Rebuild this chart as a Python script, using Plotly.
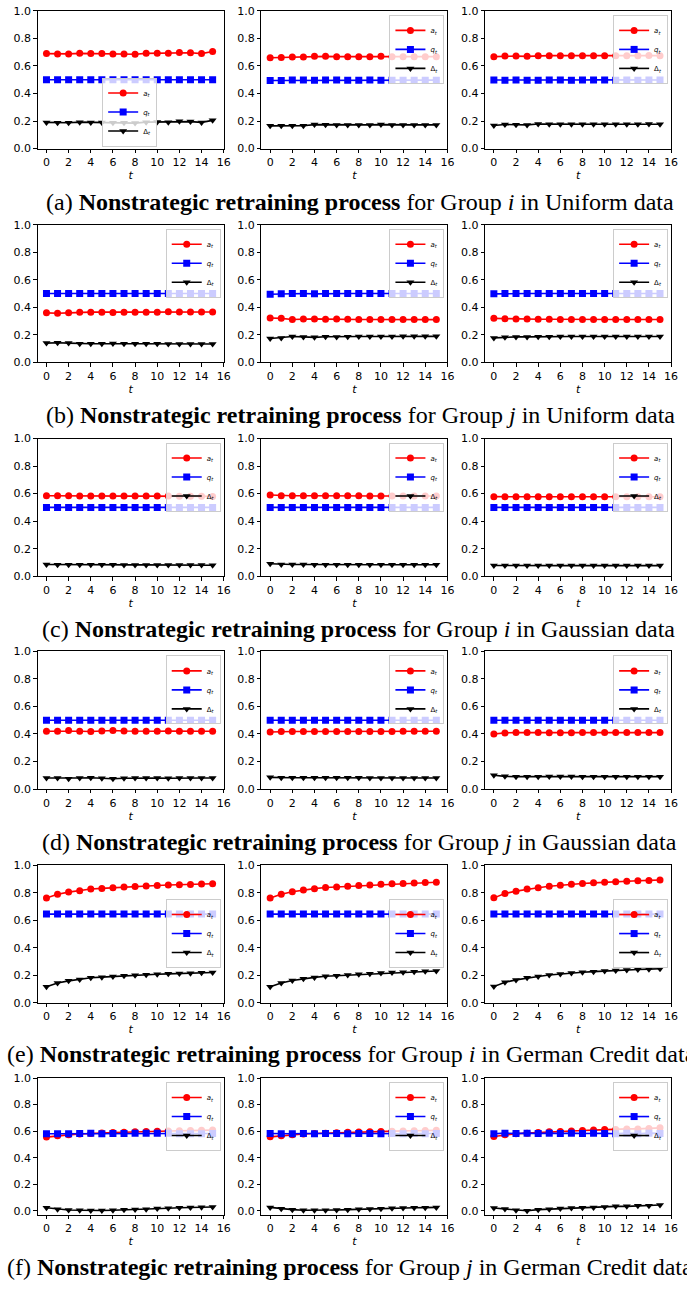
import plotly.graph_objects as go

t = list(range(16))
x_ticks = [0, 2, 4, 6, 8, 10, 12, 14, 16]
y_ticks = [0.0, 0.2, 0.4, 0.6, 0.8, 1.0]

# ---------------- (a) Group i, Uniform ----------------
a_a1 = [0.690,0.688,0.688,0.692,0.690,0.690,0.687,0.687,0.685,0.692,0.693,0.692,0.698,0.696,0.690,0.705]
q_a1 = [0.500,0.500,0.500,0.500,0.500,0.500,0.500,0.500,0.500,0.500,0.500,0.500,0.500,0.500,0.500,0.500]
d_a1 = [0.190,0.188,0.188,0.192,0.190,0.190,0.187,0.187,0.185,0.192,0.193,0.192,0.198,0.196,0.190,0.205]
a_a2 = [0.660,0.662,0.665,0.665,0.670,0.670,0.668,0.668,0.668,0.668,0.670,0.668,0.668,0.668,0.668,0.668]
q_a2 = [0.495,0.495,0.498,0.498,0.496,0.498,0.498,0.497,0.497,0.498,0.497,0.497,0.497,0.497,0.497,0.497]
d_a2 = [0.165,0.165,0.166,0.166,0.174,0.173,0.172,0.172,0.172,0.172,0.174,0.172,0.172,0.172,0.172,0.172]
a_a3 = [0.668,0.672,0.672,0.670,0.675,0.675,0.675,0.674,0.675,0.675,0.675,0.675,0.675,0.675,0.676,0.675]
q_a3 = [0.498,0.497,0.498,0.497,0.497,0.498,0.499,0.497,0.498,0.499,0.498,0.497,0.498,0.497,0.498,0.498]
d_a3 = [0.168,0.175,0.173,0.172,0.178,0.177,0.177,0.176,0.177,0.177,0.177,0.177,0.177,0.177,0.178,0.177]

# ---------------- (b) Group j, Uniform ----------------
a_b1 = [0.360,0.357,0.360,0.365,0.365,0.365,0.363,0.365,0.365,0.365,0.365,0.367,0.366,0.366,0.366,0.366]
q_b1 = [0.500,0.500,0.500,0.500,0.500,0.500,0.500,0.500,0.500,0.500,0.500,0.500,0.500,0.500,0.500,0.500]
d_b1 = [0.140,0.143,0.140,0.135,0.135,0.135,0.137,0.135,0.135,0.135,0.135,0.133,0.134,0.134,0.134,0.134]
a_b2 = [0.322,0.320,0.312,0.315,0.316,0.314,0.315,0.313,0.312,0.312,0.312,0.312,0.311,0.311,0.311,0.311]
q_b2 = [0.495,0.498,0.500,0.500,0.498,0.500,0.500,0.500,0.500,0.500,0.500,0.500,0.500,0.500,0.500,0.500]
d_b2 = [0.173,0.178,0.188,0.185,0.182,0.186,0.185,0.187,0.188,0.188,0.188,0.188,0.189,0.189,0.189,0.189]
a_b3 = [0.320,0.317,0.315,0.315,0.313,0.313,0.312,0.312,0.312,0.312,0.312,0.312,0.312,0.312,0.312,0.312]
q_b3 = [0.498,0.500,0.500,0.500,0.500,0.500,0.500,0.500,0.500,0.500,0.500,0.500,0.500,0.500,0.500,0.500]
d_b3 = [0.178,0.183,0.185,0.185,0.187,0.187,0.188,0.188,0.188,0.188,0.188,0.188,0.188,0.188,0.188,0.188]

# ---------------- (c) Group i, Gaussian ----------------
a_c1 = [0.585,0.584,0.584,0.583,0.583,0.583,0.583,0.582,0.582,0.582,0.582,0.582,0.581,0.581,0.581,0.580]
q_c1 = [0.500,0.500,0.500,0.500,0.500,0.500,0.500,0.500,0.500,0.500,0.500,0.500,0.500,0.500,0.500,0.500]
d_c1 = [0.085,0.084,0.084,0.083,0.083,0.083,0.083,0.082,0.082,0.082,0.082,0.082,0.081,0.081,0.081,0.080]
a_c2 = [0.590,0.585,0.585,0.585,0.584,0.584,0.584,0.584,0.584,0.583,0.583,0.583,0.583,0.583,0.583,0.583]
q_c2 = [0.500,0.500,0.500,0.500,0.500,0.500,0.500,0.500,0.500,0.500,0.500,0.500,0.500,0.500,0.500,0.500]
d_c2 = [0.090,0.085,0.085,0.085,0.084,0.084,0.084,0.084,0.084,0.083,0.083,0.083,0.083,0.083,0.083,0.083]
a_c3 = [0.578,0.577,0.577,0.577,0.577,0.577,0.577,0.577,0.577,0.577,0.577,0.577,0.577,0.577,0.577,0.577]
q_c3 = [0.500,0.500,0.500,0.500,0.500,0.500,0.500,0.500,0.500,0.500,0.500,0.500,0.500,0.500,0.500,0.500]
d_c3 = [0.078,0.077,0.077,0.077,0.077,0.077,0.077,0.077,0.077,0.077,0.077,0.077,0.077,0.077,0.077,0.077]

# ---------------- (d) Group j, Gaussian ----------------
a_d1 = [0.420,0.420,0.425,0.420,0.418,0.422,0.425,0.422,0.420,0.420,0.420,0.422,0.420,0.420,0.420,0.420]
q_d1 = [0.500,0.500,0.500,0.500,0.500,0.500,0.500,0.500,0.500,0.500,0.500,0.500,0.500,0.500,0.500,0.500]
d_d1 = [0.080,0.080,0.075,0.080,0.082,0.078,0.075,0.078,0.080,0.080,0.080,0.078,0.080,0.080,0.080,0.080]
a_d2 = [0.415,0.418,0.418,0.418,0.418,0.418,0.418,0.418,0.418,0.419,0.419,0.419,0.420,0.420,0.420,0.420]
q_d2 = [0.500,0.500,0.500,0.500,0.500,0.500,0.500,0.500,0.500,0.500,0.500,0.500,0.500,0.500,0.500,0.500]
d_d2 = [0.085,0.082,0.082,0.082,0.082,0.082,0.082,0.082,0.082,0.081,0.081,0.081,0.080,0.080,0.080,0.080]
a_d3 = [0.400,0.408,0.410,0.410,0.410,0.409,0.409,0.409,0.410,0.410,0.410,0.410,0.410,0.410,0.410,0.410]
q_d3 = [0.500,0.500,0.500,0.500,0.500,0.500,0.500,0.500,0.500,0.500,0.500,0.500,0.500,0.500,0.500,0.500]
d_d3 = [0.100,0.092,0.090,0.090,0.090,0.091,0.091,0.091,0.090,0.090,0.090,0.090,0.090,0.090,0.090,0.090]

# ---------------- (e) Group i, German Credit ----------------
a_e1 = [0.762,0.790,0.805,0.815,0.828,0.832,0.837,0.842,0.845,0.850,0.853,0.856,0.858,0.860,0.863,0.866]
q_e1 = [0.645,0.645,0.645,0.645,0.645,0.645,0.645,0.645,0.645,0.645,0.645,0.645,0.645,0.645,0.645,0.645]
d_e1 = [0.117,0.145,0.160,0.170,0.183,0.187,0.192,0.197,0.200,0.205,0.208,0.211,0.213,0.215,0.218,0.221]
a_e2 = [0.762,0.790,0.807,0.820,0.830,0.838,0.842,0.847,0.853,0.857,0.862,0.865,0.868,0.871,0.874,0.877]
q_e2 = [0.645,0.645,0.645,0.645,0.645,0.645,0.645,0.645,0.645,0.645,0.645,0.645,0.645,0.645,0.645,0.645]
d_e2 = [0.117,0.145,0.162,0.175,0.185,0.193,0.197,0.202,0.208,0.212,0.217,0.220,0.223,0.226,0.229,0.232]
a_e3 = [0.763,0.795,0.812,0.827,0.837,0.847,0.855,0.862,0.867,0.872,0.877,0.880,0.883,0.887,0.890,0.893]
q_e3 = [0.645,0.645,0.645,0.645,0.645,0.645,0.645,0.645,0.645,0.645,0.645,0.645,0.645,0.645,0.645,0.645]
d_e3 = [0.118,0.150,0.167,0.182,0.192,0.202,0.210,0.217,0.222,0.227,0.232,0.235,0.238,0.242,0.245,0.248]

# ---------------- (f) Group j, German Credit ----------------
a_f1 = [0.555,0.565,0.572,0.578,0.583,0.586,0.589,0.592,0.595,0.597,0.600,0.602,0.603,0.604,0.606,0.608]
q_f1 = [0.580,0.580,0.580,0.582,0.585,0.580,0.583,0.583,0.585,0.585,0.585,0.584,0.580,0.580,0.580,0.582]
d_f1 = [0.022,0.012,0.006,0.004,0.001,0.002,0.004,0.008,0.010,0.012,0.016,0.019,0.022,0.024,0.026,0.028]
a_f2 = [0.557,0.565,0.573,0.578,0.582,0.585,0.588,0.591,0.594,0.596,0.598,0.600,0.602,0.603,0.605,0.606]
q_f2 = [0.582,0.580,0.580,0.582,0.580,0.582,0.582,0.580,0.582,0.582,0.580,0.582,0.580,0.582,0.580,0.582]
d_f2 = [0.025,0.015,0.008,0.004,0.003,0.003,0.006,0.008,0.011,0.013,0.015,0.018,0.020,0.022,0.023,0.025]
a_f3 = [0.560,0.572,0.580,0.585,0.590,0.595,0.598,0.602,0.605,0.608,0.612,0.613,0.617,0.617,0.620,0.625]
q_f3 = [0.580,0.585,0.582,0.585,0.582,0.585,0.582,0.585,0.582,0.585,0.583,0.580,0.585,0.580,0.585,0.583]
d_f3 = [0.020,0.013,0.003,0.000,0.008,0.012,0.016,0.020,0.023,0.025,0.028,0.033,0.033,0.037,0.037,0.043]

captions = [
    "(a) <b>Nonstrategic retraining process</b> for Group <i>i</i> in Uniform data",
    "(b) <b>Nonstrategic retraining process</b> for Group <i>j</i> in Uniform data",
    "(c) <b>Nonstrategic retraining process</b> for Group <i>i</i> in Gaussian data",
    "(d) <b>Nonstrategic retraining process</b> for Group <i>j</i> in Gaussian data",
    "(e) <b>Nonstrategic retraining process</b> for Group <i>i</i> in German Credit data",
    "(f) <b>Nonstrategic retraining process</b> for Group <i>j</i> in German Credit data",
]

panels = [
    [(a_a1, q_a1, d_a1), (a_a2, q_a2, d_a2), (a_a3, q_a3, d_a3)],
    [(a_b1, q_b1, d_b1), (a_b2, q_b2, d_b2), (a_b3, q_b3, d_b3)],
    [(a_c1, q_c1, d_c1), (a_c2, q_c2, d_c2), (a_c3, q_c3, d_c3)],
    [(a_d1, q_d1, d_d1), (a_d2, q_d2, d_d2), (a_d3, q_d3, d_d3)],
    [(a_e1, q_e1, d_e1), (a_e2, q_e2, d_e2), (a_e3, q_e3, d_e3)],
    [(a_f1, q_f1, d_f1), (a_f2, q_f2, d_f2), (a_f3, q_f3, d_f3)],
]

# ---------------- layout geometry (pixels) ----------------
W, H = 687, 1291
col_x = [(38, 226), (264, 452), (490, 678)]
row_top = [5, 221, 437, 652, 868, 1083]
row_bot = [144, 360, 576, 791, 1007, 1221]
y_ranges = [[0, 1]] * 5 + [[-0.03, 1.0]]
caption_y = [198, 413, 629, 844, 1059, 1274]
caption_x = [44, 44, 40, 40, 5, 5]

series_style = [
    ("<i>a</i><sub><i>t</i></sub>", "#ff0000", "circle"),
    ("<i>q</i><sub><i>t</i></sub>", "#0000ff", "square"),
    ("Δ<sub><i>t</i></sub>", "#000000", "triangle-down"),
]

fig = go.Figure()
layout = dict(
    width=W, height=H,
    margin=dict(l=0, r=0, t=0, b=0),
    paper_bgcolor="white", plot_bgcolor="white",
    showlegend=True,
    font=dict(family="DejaVu Sans", color="black"),
    annotations=[],
)

def px_x(v):
    return v / W

def px_y(v):
    return 1 - v / H

k = 0
for r in range(6):
    for c in range(3):
        k += 1
        xs = "" if k == 1 else str(k)
        legname = "legend" if k == 1 else f"legend{k}"
        for (name, color, sym), vals in zip(series_style, panels[r][c]):
            fig.add_trace(go.Scatter(
                x=t, y=vals, mode="lines+markers", name=name,
                line=dict(color=color, width=1.6),
                marker=dict(color=color, symbol=sym, size=7),
                xaxis="x" + xs, yaxis="y" + xs, legend=legname,
            ))
        x0, x1 = col_x[c]
        layout["xaxis" + xs] = dict(
            domain=[px_x(x0), px_x(x1)], anchor="y" + xs,
            range=[-0.8, 16], tickvals=x_ticks,
            ticks="outside", ticklen=3.5, tickwidth=0.8, tickcolor="black",
            showline=True, linecolor="black", linewidth=0.8, mirror=True,
            showgrid=False, zeroline=False,
            tickfont=dict(family="DejaVu Sans", size=11, color="black"),
            title=dict(text="<i>t</i>", font=dict(family="DejaVu Sans", size=11, color="black"), standoff=2),
        )
        layout["yaxis" + xs] = dict(
            domain=[px_y(row_bot[r]), px_y(row_top[r])], anchor="x" + xs,
            range=y_ranges[r], tickvals=y_ticks, tickformat=".1f",
            ticks="outside", ticklen=3.5, tickwidth=0.8, tickcolor="black",
            showline=True, linecolor="black", linewidth=0.8, mirror=True,
            showgrid=False, zeroline=False,
            tickfont=dict(family="DejaVu Sans", size=11, color="black"),
        )
        # legend placement
        if r == 0 and c == 0:
            lx, ly, xa, ya = 131, 142, "center", "bottom"
        elif r == 4:
            lx, ly, xa, ya = x1 - 3, 937, "right", "middle"
        else:
            lx, ly, xa, ya = x1 - 3, row_top[r] + 4, "right", "top"
        layout[legname] = dict(
            x=px_x(lx), y=px_y(ly), xanchor=xa, yanchor=ya,
            xref="paper", yref="paper",
            bgcolor="rgba(255,255,255,0.8)", bordercolor="#cccccc", borderwidth=1,
            font=dict(family="DejaVu Sans", size=7, color="black"),
            tracegroupgap=0, itemwidth=30,
        )
    layout["annotations"].append(dict(
        text=captions[r], x=px_x(caption_x[r]), y=px_y(caption_y[r]),
        xref="paper", yref="paper", xanchor="left", yanchor="middle",
        showarrow=False,
        font=dict(family="Liberation Serif", size=24, color="black"),
    ))

fig.update_layout(**layout)
fig.write_html("out.html", config={"displayModeBar": False},
               post_script="document.body.style.margin='0px';")
